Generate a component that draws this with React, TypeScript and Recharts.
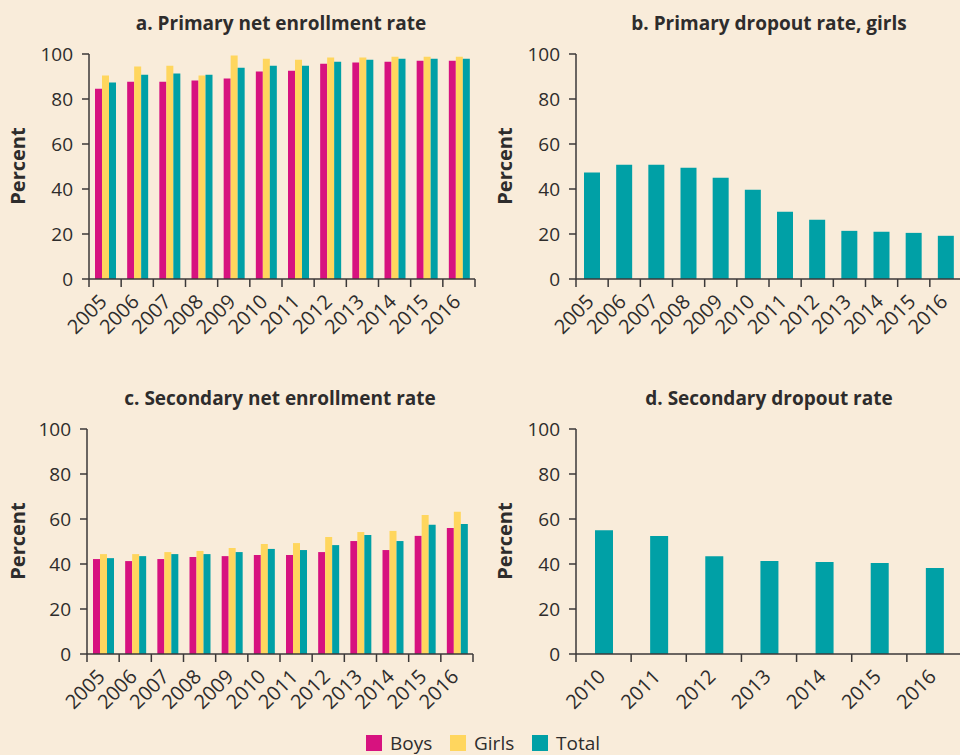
import { BarChart, Bar, XAxis, YAxis } from "recharts";

/* ────────────────────────────────────────── */
/*  Data                                      */
/* ────────────────────────────────────────── */

const years = ["2005", "2006", "2007", "2008", "2009", "2010", "2011", "2012", "2013", "2014", "2015", "2016"];
const dropoutYears = ["2010", "2011", "2012", "2013", "2014", "2015", "2016"];

const primaryBoys = [84.6, 87.7, 87.7, 88.2, 89.1, 92.2, 92.6, 95.7, 96.2, 96.6, 97.0, 97.0];
const primaryGirls = [90.4, 94.4, 94.8, 90.4, 99.3, 97.9, 97.5, 98.4, 98.4, 98.8, 98.8, 98.8];
const primaryTotal = [87.3, 90.8, 91.3, 90.8, 93.9, 94.8, 94.8, 96.6, 97.5, 97.9, 97.9, 97.9];

const primaryDropoutGirls = [47.3, 50.8, 50.8, 49.5, 45.0, 39.7, 29.9, 26.3, 21.4, 21.0, 20.5, 19.2];

const secondaryBoys = [42.2, 41.3, 42.2, 43.1, 43.5, 44.0, 44.0, 45.3, 50.2, 46.2, 52.5, 56.0];
const secondaryGirls = [44.4, 44.4, 45.3, 45.8, 47.1, 48.9, 49.3, 52.0, 54.2, 54.7, 61.8, 63.2];
const secondaryTotal = [42.6, 43.5, 44.4, 44.4, 45.3, 46.7, 46.2, 48.4, 52.9, 50.2, 57.4, 57.8];

const secondaryDropout = [55.0, 52.4, 43.5, 41.3, 40.9, 40.4, 38.2];

const percentTicks = [0, 20, 40, 60, 80, 100];

const BG = "#F9ECDA";
const INK = "#2e2c2c";
const AXIS = "#3b3838";
const BOYS = "#D7127F";
const GIRLS = "#FFD65E";
const TOTAL = "#00A0A6";
const FONT = "'Open Sans', Lato, sans-serif";

const primaryData = years.map((year, i) => ({
  year,
  boys: primaryBoys[i],
  girls: primaryGirls[i],
  total: primaryTotal[i],
}));
const primaryDropoutData = years.map((year, i) => ({ year, total: primaryDropoutGirls[i] }));
const secondaryData = years.map((year, i) => ({
  year,
  boys: secondaryBoys[i],
  girls: secondaryGirls[i],
  total: secondaryTotal[i],
}));
const secondaryDropoutData = dropoutYears.map((year, i) => ({ year, total: secondaryDropout[i] }));

/* ────────────────────────────────────────── */
/*  Year tick: boundary tick marks + label    */
/* ────────────────────────────────────────── */

function YearTick({ x, y, payload, width, visibleTicksCount }: any) {
  const half = payload?.offset ?? width / visibleTicksCount / 2;
  const isLast = payload.index === visibleTicksCount - 1;
  const lx = x + 3;
  const ly = y + 24;
  return (
    <g>
      <line x1={x - half} x2={x - half} y1={y} y2={y + 8} stroke={AXIS} strokeWidth={1.5} />
      {isLast && (
        <line x1={x + half} x2={x + half} y1={y} y2={y + 8} stroke={AXIS} strokeWidth={1.5} />
      )}
      <text
        x={lx}
        y={ly}
        textAnchor="end"
        transform={`rotate(-45 ${lx} ${ly})`}
        fontSize={20}
        fontFamily={FONT}
        fill={INK}
      >
        {payload.value}
      </text>
    </g>
  );
}

/* ────────────────────────────────────────── */
/*  Panel                                     */
/* ────────────────────────────────────────── */

interface PanelProps {
  plotLeft: number;
  plotTop: number;
  data: any[];
  keys: { key: string; color: string }[];
  barSize: number;
}

const PLOT_W = 386;
const PLOT_H = 225;
const Y_W = 80;
const TOP_PAD = 50;
const X_H = 70;

function Panel({ plotLeft, plotTop, data, keys, barSize }: PanelProps) {
  return (
    <div style={{ position: "absolute", left: plotLeft - Y_W, top: plotTop - TOP_PAD }}>
      <BarChart
        width={Y_W + PLOT_W + 4}
        height={TOP_PAD + PLOT_H + X_H}
        data={data}
        margin={{ top: TOP_PAD, right: 4, left: 0, bottom: 0 }}
        barGap={0}
      >
        <XAxis
          dataKey="year"
          height={X_H}
          tickLine={false}
          tickSize={0}
          tickMargin={0}
          interval={0}
          axisLine={{ stroke: AXIS, strokeWidth: 1.5 }}
          tick={<YearTick />}
        />
        <YAxis
          width={Y_W}
          domain={[0, 100]}
          ticks={percentTicks}
          interval={0}
          tickSize={7}
          tickMargin={9}
          axisLine={{ stroke: AXIS, strokeWidth: 1.5 }}
          tickLine={{ stroke: AXIS, strokeWidth: 1.5 }}
          tick={{ fontSize: 19, fontFamily: FONT, fill: INK }}
        />
        {keys.map((k) => (
          <Bar key={k.key} dataKey={k.key} fill={k.color} barSize={barSize} isAnimationActive={false} />
        ))}
      </BarChart>
    </div>
  );
}

/* ────────────────────────────────────────── */
/*  App                                       */
/* ────────────────────────────────────────── */

const threeKeys = [
  { key: "boys", color: BOYS },
  { key: "girls", color: GIRLS },
  { key: "total", color: TOTAL },
];
const oneKey = [{ key: "total", color: TOTAL }];

const titles = [
  { text: "a. Primary net enrollment rate", x: 281, y: 30 },
  { text: "b. Primary dropout rate, girls", x: 769, y: 30 },
  { text: "c. Secondary net enrollment rate", x: 280, y: 405 },
  { text: "d. Secondary dropout rate", x: 769, y: 405 },
];

const percentLabels = [
  { x: 25, y: 166 },
  { x: 512, y: 166 },
  { x: 25, y: 541 },
  { x: 512, y: 541 },
];

const legendItems = [
  { label: "Boys", color: BOYS, x: 366 },
  { label: "Girls", color: GIRLS, x: 450 },
  { label: "Total", color: TOTAL, x: 532 },
];

export default function App() {
  return (
    <div
      style={{
        position: "absolute",
        left: 0,
        top: 0,
        width: 960,
        height: 755,
        background: BG,
        overflow: "hidden",
        fontFamily: FONT,
      }}
    >
      <Panel plotLeft={89} plotTop={53.5} data={primaryData} keys={threeKeys} barSize={7} />
      <Panel plotLeft={576} plotTop={53.5} data={primaryDropoutData} keys={oneKey} barSize={16} />
      <Panel plotLeft={87} plotTop={429} data={secondaryData} keys={threeKeys} barSize={7} />
      <Panel plotLeft={576} plotTop={429} data={secondaryDropoutData} keys={oneKey} barSize={18} />

      {/* Titles, axis labels and legend */}
      <svg
        width={960}
        height={755}
        style={{ position: "absolute", left: 0, top: 0, pointerEvents: "none" }}
      >
        {titles.map((t) => (
          <text
            key={t.text}
            x={t.x}
            y={t.y}
            textAnchor="middle"
            fontSize={19}
            fontWeight={700}
            fontFamily={FONT}
            fill={INK}
          >
            {t.text}
          </text>
        ))}
        {percentLabels.map((p, i) => (
          <text
            key={i}
            x={p.x}
            y={p.y}
            textAnchor="middle"
            transform={`rotate(-90 ${p.x} ${p.y})`}
            fontSize={20}
            fontWeight={700}
            fontFamily={FONT}
            fill={INK}
          >
            Percent
          </text>
        ))}
        {legendItems.map((l) => (
          <g key={l.label}>
            <rect x={l.x} y={735} width={16} height={16} fill={l.color} />
            <text x={l.x + 24} y={750} fontSize={19} fontFamily={FONT} fill={INK}>
              {l.label}
            </text>
          </g>
        ))}
      </svg>
    </div>
  );
}
